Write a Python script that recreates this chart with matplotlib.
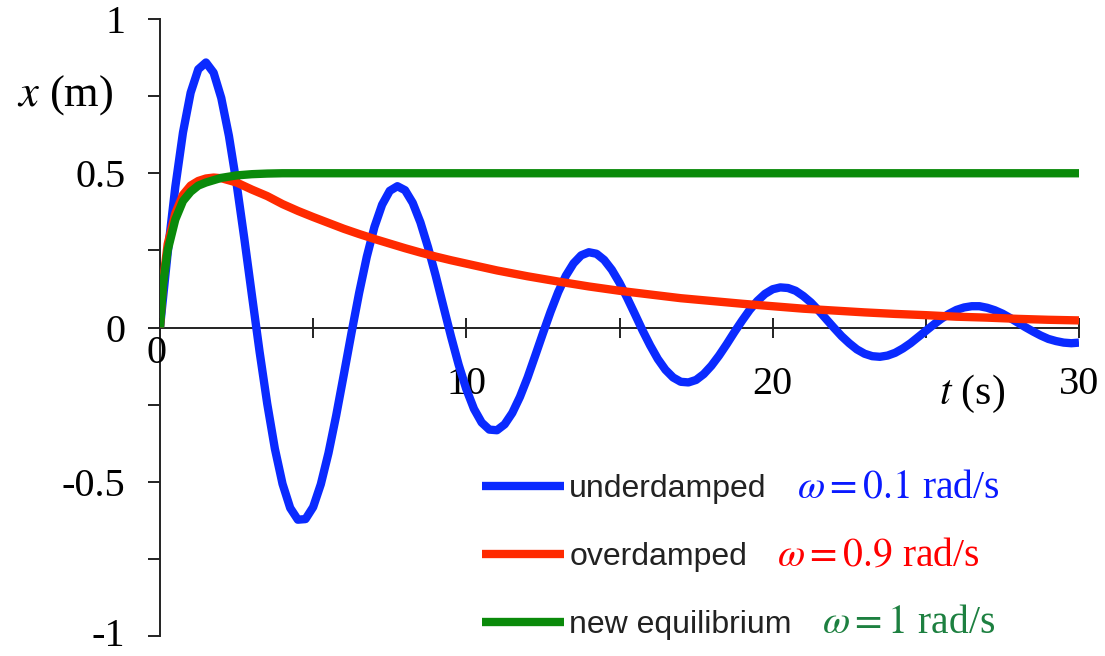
import numpy as np
import matplotlib
matplotlib.use('Agg')
import matplotlib.pyplot as plt
from matplotlib.ticker import MultipleLocator
from matplotlib.transforms import ScaledTranslation

# underdamped curve, read every 0.25 s
T_UNDER = np.arange(0, 30.01, 0.25)
X_UNDER = [
    0.000, 0.241, 0.456, 0.632, 0.761, 0.837, 0.859, 0.826, 0.744, 0.621,
    0.466, 0.290, 0.105, -0.078, -0.247, -0.393, -0.507, -0.585, -0.623, -0.621,
    -0.582, -0.508, -0.407, -0.286, -0.153, -0.018, 0.112, 0.229, 0.326, 0.398,
    0.443, 0.458, 0.445, 0.404, 0.341, 0.260, 0.168, 0.069, -0.029, -0.121,
    -0.200, -0.264, -0.308, -0.331, -0.333, -0.314, -0.277, -0.225, -0.162, -0.091,
    -0.019, 0.051, 0.115, 0.168, 0.208, 0.234, 0.244, 0.239, 0.219, 0.187,
    0.145, 0.096, 0.044, -0.009, -0.058, -0.102, -0.137, -0.162, -0.176, -0.178,
    -0.170, -0.151, -0.124, -0.091, -0.054, -0.015, 0.022, 0.057, 0.086, 0.109,
    0.124, 0.130, 0.128, 0.119, 0.102, 0.081, 0.055, 0.027, -0.001, -0.028,
    -0.051, -0.071, -0.085, -0.093, -0.095, -0.091, -0.082, -0.068, -0.051, -0.031,
    -0.011, 0.009, 0.028, 0.044, 0.057, 0.065, 0.069, 0.069, 0.064, 0.056,
    0.045, 0.031, 0.016, 0.001, -0.013, -0.026, -0.037, -0.044, -0.049, -0.051,
    -0.049,
]

# overdamped curve
T_OVER = [0, 0.1, 0.25, 0.5, 0.75, 1.0, 1.25, 1.5, 1.75, 2.0, 2.5, 3.0, 3.5,
          4.0, 4.5, 5.0, 5.5, 6.0, 6.5, 7.0, 7.5, 8.0, 8.5, 9.0, 9.5, 10,
          11, 12, 13, 14, 15, 16, 17, 18, 19, 20, 21, 22, 23, 24, 25, 26,
          27, 28, 29, 30]
X_OVER = [0, 0.15, 0.27, 0.37, 0.43, 0.46, 0.475, 0.483, 0.486, 0.484, 0.47,
          0.447, 0.426, 0.40, 0.378, 0.358, 0.339, 0.320, 0.303, 0.287, 0.272,
          0.257, 0.243, 0.230, 0.218, 0.207, 0.185, 0.166, 0.149, 0.133, 0.119,
          0.107, 0.095, 0.086, 0.077, 0.069, 0.061, 0.055, 0.049, 0.044, 0.040,
          0.035, 0.032, 0.028, 0.025, 0.023]

# new equilibrium curve
T_EQ = [0, 0.1, 0.25, 0.5, 0.75, 1.0, 1.25, 1.5, 2.0, 2.5, 3.0, 3.5, 4.0, 30]
X_EQ = [0, 0.14, 0.25, 0.35, 0.41, 0.44, 0.46, 0.47, 0.485, 0.493, 0.497,
        0.499, 0.5, 0.5]

NAMES = ['underdamped', 'overdamped', 'new equilibrium']
OMEGAS = [r'$\omega = 0.1$ rad/s', r'$\omega = 0.9$ rad/s', r'$\omega = 1$ rad/s']
LINE_COLORS = ['#0a2aff', '#ff2a00', '#0a8a0a']
TEXT_COLORS = ['#0a1aff', '#ff0000', '#1d8040']

plt.rcParams['mathtext.fontset'] = 'stix'
SERIF = 'Liberation Serif'
SANS = 'Liberation Sans'

fig = plt.figure(figsize=(11.05, 6.56), dpi=100)
ax = fig.add_axes([160 / 1105, 1 - 636 / 656, 919 / 1105, 617 / 656])

lw = 6
for t, x, c, name, z in [(T_UNDER, X_UNDER, LINE_COLORS[0], NAMES[0], 3),
                         (T_OVER, X_OVER, LINE_COLORS[1], NAMES[1], 3),
                         (T_EQ, X_EQ, LINE_COLORS[2], NAMES[2], 4)]:
    ax.plot(t, x, color=c, lw=lw, label=name, solid_capstyle='butt',
            solid_joinstyle='round', zorder=z)

ax.set_xlim(0, 30)
ax.set_ylim(-1, 1)
for s in ('top', 'right'):
    ax.spines[s].set_visible(False)
ax.spines['left'].set_position(('data', 0))
ax.spines['bottom'].set_position(('data', 0))
for s in ('left', 'bottom'):
    ax.spines[s].set_color('#222222')
    ax.spines[s].set_linewidth(1.4)

ax.yaxis.set_minor_locator(MultipleLocator(0.25))
ax.set_yticks([-1, -0.5, 0, 0.5, 1])
ax.set_yticklabels(['-1', '-0.5', '0', '0.5', '1'], family=SERIF, fontsize=29)
ax.tick_params(axis='y', which='both', direction='out', length=9, width=1.4,
               color='#222222', pad=16)
# nudge the bottom label up a little so it stays inside the figure
lab = ax.get_yticklabels()[0]
lab.set_transform(lab.get_transform() + ScaledTranslation(0, 4 / 100, fig.dpi_scale_trans))

ax.set_xticks([0, 10, 20, 30])
ax.set_xticks([5, 15, 25], minor=True)
ax.set_xticklabels(['', '10', '20', '30'], family=SERIF, fontsize=29)
ax.tick_params(axis='x', which='both', direction='inout', length=14, width=1.4,
               color='#222222', pad=21)
ax.text(-0.1, -0.085, '0', family=SERIF, fontsize=29, ha='center', va='center')

ax.text(-3.1, 0.754, r'$x$ (m)', family=SERIF, fontsize=32, ha='center',
        va='center')
ax.text(26.5, -0.217, r'$t$ (s)', family=SERIF, fontsize=30, ha='center',
        va='center')

fs_leg = 23
leg = ax.legend(loc='upper left', bbox_to_anchor=(0.350, 0.262), frameon=False,
                prop={'family': SANS, 'size': fs_leg}, handlelength=2.57,
                handletextpad=0.17, labelspacing=1.18, borderpad=0,
                borderaxespad=0)

fig.canvas.draw()
renderer = fig.canvas.get_renderer()
for txt, om, col in zip(leg.get_texts(), OMEGAS, TEXT_COLORS):
    txt.set_color('#222222')
    bb = txt.get_window_extent(renderer)
    base = bb.y0 + 0.21 * fs_leg * 100 / 72
    fig.text(bb.x1 + 30, base, om, transform=None, va='baseline', ha='left',
             family=SERIF, fontsize=28.5, color=col)

fig.savefig('out.png', dpi=100)
